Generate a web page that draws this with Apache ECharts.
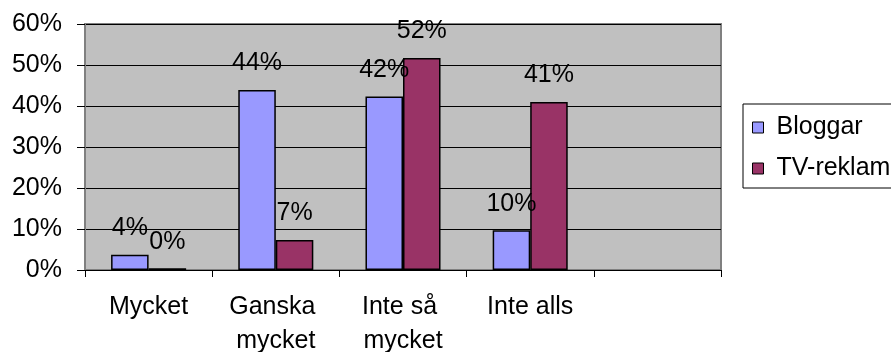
<!DOCTYPE html>
<html>
<head>
<meta charset="utf-8">
<script src="https://cdn.jsdelivr.net/npm/echarts@6/dist/echarts.min.js"></script>
<style>html,body{margin:0;padding:0;background:#fff}#c{width:891px;height:352px}</style>
</head>
<body>
<div id="c"></div>
<script>
var categories = ['Mycket', 'Ganska mycket', 'Inte så mycket', 'Inte alls', ''];
var bloggar = [3.7, 43.9, 42.3, 9.7, null];
var tvReklam = [0.4, 7.3, 51.7, 41.0, null];
var seriesNames = ['Bloggar', 'TV-reklam'];
var yTicks = [0, 10, 20, 30, 40, 50, 60];

var FONT = '"Liberation Sans", Arial, sans-serif';
var FS = 25;
var chart = echarts.init(document.getElementById('c'), null, {renderer: 'canvas'});
function lbl() {
  return {
    show: true, position: 'top', distance: 14,
    fontSize: FS, fontFamily: FONT, color: '#000',
    formatter: function (p) { return Math.round(p.value) + '%'; }
  };
}
chart.setOption({
  animation: false,
  backgroundColor: '#fff',
  textStyle: {fontFamily: FONT},
  grid: {
    left: 85, right: 170, top: 24, bottom: 82,
    outerBoundsMode: 'none', containLabel: false,
    show: true, backgroundColor: '#c0c0c0', borderColor: '#808080', borderWidth: 2
  },
  legend: {
    orient: 'vertical', left: 743, top: 104,
    backgroundColor: '#fff', borderColor: '#000', borderWidth: 1,
    padding: [11, 12, 7, 9], itemGap: 16, itemWidth: 11, itemHeight: 11,
    icon: 'rect',
    itemStyle: {borderColor: '#000', borderWidth: 1},
    textStyle: {fontSize: FS, fontFamily: FONT, color: '#000', padding: [0, 0, 0, 8]},
    data: seriesNames
  },
  xAxis: {
    type: 'category', data: categories,
    axisLine: {lineStyle: {color: '#000', width: 1}},
    axisTick: {show: true, length: 7, lineStyle: {color: '#000'}},
    axisLabel: {
      fontSize: FS, fontFamily: FONT, color: '#000', margin: 20, lineHeight: 34,
      width: 115, overflow: 'break', interval: 0
    }
  },
  yAxis: {
    type: 'value', min: yTicks[0], max: yTicks[yTicks.length - 1], interval: 10,
    axisLine: {show: true, lineStyle: {color: '#808080', width: 2}},
    axisTick: {show: true, length: 8, lineStyle: {color: '#000'}},
    axisLabel: {fontSize: FS, fontFamily: FONT, color: '#000', margin: 23, formatter: '{value}%'},
    splitLine: {show: true, lineStyle: {color: '#000', width: 1}}
  },
  series: [
    {
      name: seriesNames[0], type: 'bar', data: bloggar,
      barGap: '0%', barCategoryGap: '41%',
      itemStyle: {color: '#9999ff', borderColor: '#000', borderWidth: 1.5},
      label: lbl()
    },
    {
      name: seriesNames[1], type: 'bar', data: tvReklam,
      barGap: '0%', barCategoryGap: '41%',
      itemStyle: {color: '#993366', borderColor: '#000', borderWidth: 1.5},
      label: lbl()
    }
  ]
});
</script>
</body>
</html>
